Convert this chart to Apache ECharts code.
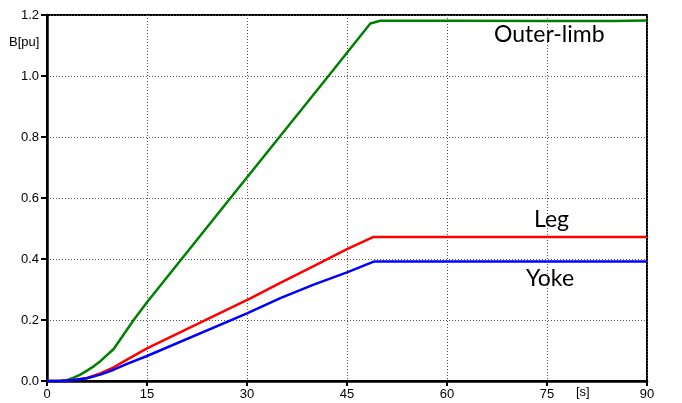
<!DOCTYPE html>
<html>
<head>
<meta charset="utf-8">
<script src="https://cdn.jsdelivr.net/npm/echarts@6/dist/echarts.min.js"></script>
<style>
  html, body { margin: 0; padding: 0; background: #fff; }
  #chart { width: 682px; height: 403px; }
</style>
</head>
<body>
<div id="chart"></div>
<script>
// Flux density in the core parts during energisation, time in seconds
const xTicks = [0, 15, 30, 45, 60, 75, 90];
const yTicks = [0.0, 0.2, 0.4, 0.6, 0.8, 1.0, 1.2];

const outerLimb = [
  [0, 0], [2, 0], [3, 0.003], [4, 0.011], [5, 0.021], [6, 0.034], [7, 0.048],
  [8, 0.065], [10, 0.105], [13, 0.2], [15, 0.258], [27.7, 0.605], [34.9, 0.801],
  [42.1, 0.997], [48.5, 1.172], [50, 1.181], [60, 1.181], [75, 1.180],
  [85, 1.180], [90, 1.182]
];
const leg = [
  [0, 0], [2, 0], [4, 0.003], [6, 0.01], [8, 0.025], [10, 0.045], [12, 0.07],
  [15, 0.107], [30.5, 0.271], [35, 0.322], [40, 0.377], [45, 0.432],
  [48.9, 0.472], [60, 0.472], [75, 0.472], [90, 0.472]
];
const yoke = [
  [0, 0], [2, 0], [4, 0.003], [6, 0.009], [8, 0.021], [10, 0.037], [12, 0.056],
  [15, 0.082], [30, 0.222], [35, 0.272], [40, 0.316], [45, 0.356],
  [49.1, 0.392], [60, 0.392], [75, 0.392], [90, 0.392]
];

const chart = echarts.init(document.getElementById('chart'));

const axisFont = { fontFamily: 'Liberation Sans, Arial, sans-serif', fontSize: 13, color: '#000' };
const gridLine = { show: true, lineStyle: { type: [1, 2], color: '#555', width: 1 } };

function line(name, data, color) {
  return {
    name, type: 'line', data, showSymbol: false, symbol: 'none',
    lineStyle: { color, width: 2.5 }, z: 3, animation: false
  };
}

chart.setOption({
  animation: false,
  grid: { left: 47, right: 35, top: 15, bottom: 22, show: true, borderColor: '#000', borderWidth: 2, backgroundColor: 'transparent' },
  xAxis: {
    type: 'value', min: xTicks[0], max: xTicks[xTicks.length - 1], interval: 15,
    axisLine: { show: true, lineStyle: { color: '#000', width: 2.5 } },
    axisTick: { show: true, length: 5, lineStyle: { color: '#000', width: 2 } },
    axisLabel: { ...axisFont, margin: 7 },
    splitLine: gridLine
  },
  yAxis: {
    type: 'value', min: yTicks[0], max: yTicks[yTicks.length - 1], interval: 0.2,
    axisLine: { show: true, lineStyle: { color: '#000', width: 2.5 } },
    axisTick: { show: true, length: 6, lineStyle: { color: '#000', width: 2 } },
    axisLabel: { ...axisFont, margin: 8, formatter: v => v.toFixed(1) },
    splitLine: gridLine
  },
  series: [
    line('Outer-limb', outerLimb, '#008000'),
    line('Leg', leg, '#ff0000'),
    line('Yoke', yoke, '#0000ff')
  ],
  graphic: [
    { type: 'text', left: 9, top: 36, style: { text: 'B[pu]', font: '13px "Liberation Sans", Arial, sans-serif', fill: '#000' } },
    { type: 'text', left: 576, top: 386, style: { text: '[s]', font: '13px "Liberation Sans", Arial, sans-serif', fill: '#000' } },
    { type: 'text', left: 494, top: 23, style: { text: 'Outer-limb', font: '23px Lato, "Open Sans", sans-serif', fill: '#000' } },
    { type: 'text', left: 534, top: 208, style: { text: 'Leg', font: '23px Lato, "Open Sans", sans-serif', fill: '#000' } },
    { type: 'text', left: 526, top: 267, style: { text: 'Yoke', font: '23px Lato, "Open Sans", sans-serif', fill: '#000' } }
  ]
});
</script>
</body>
</html>
